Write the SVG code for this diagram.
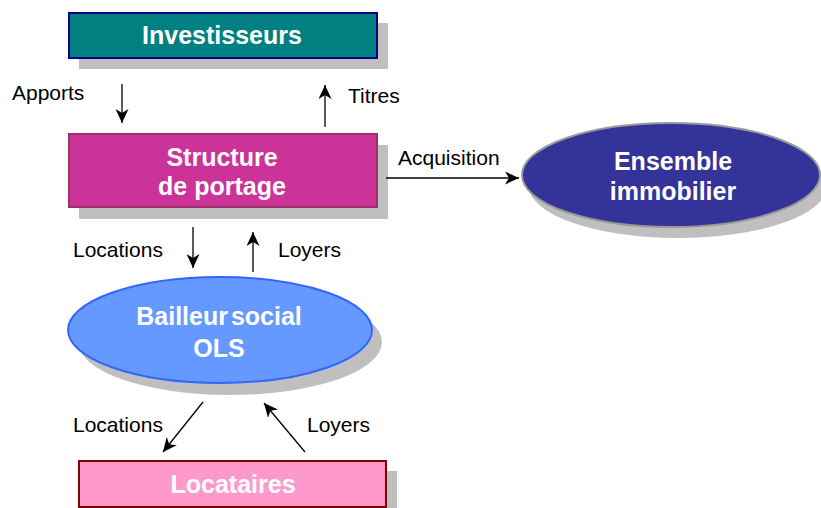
<svg xmlns="http://www.w3.org/2000/svg" width="821" height="508" viewBox="0 0 821 508">
<defs>
<marker id="ah" markerUnits="userSpaceOnUse" markerWidth="15" markerHeight="13" viewBox="0 0 15 13" refX="14" refY="6.5" orient="auto">
<path d="M0,0 L14,6.5 L0,13 L4,6.5 Z" fill="#000"/>
</marker>
<style>
.sh{fill:#BFBFBF;stroke:none}
.title{font-family:"Liberation Sans",Arial,sans-serif;font-weight:bold;font-size:25px;fill:#fff;text-anchor:middle}
.lbl{font-family:"Liberation Sans",Arial,sans-serif;font-size:21px;fill:#000}
.con{stroke:#000;stroke-width:1.3;fill:none;marker-end:url(#ah)}
</style>
</defs>
<rect width="821" height="508" fill="#fff"/>

<g id="investisseurs">
<rect class="sh" x="79" y="23" width="309" height="46"/>
<rect x="69" y="13" width="308" height="45" fill="#008080" stroke="#000080" stroke-width="2"/>
<text class="title" x="222" y="44">Investisseurs</text>
</g>

<g id="structure">
<rect class="sh" x="79" y="145" width="309" height="74"/>
<rect x="69" y="134" width="308" height="73" fill="#CC3399" stroke="#993366" stroke-width="2"/>
<text class="title" x="222" y="166">Structure</text>
<text class="title" x="222" y="195">de portage</text>
</g>

<g id="ensemble">
<ellipse class="sh" cx="678" cy="186" rx="149" ry="52"/>
<ellipse cx="671" cy="175" rx="149" ry="52" fill="#333399" stroke="#999999" stroke-width="2"/>
<text class="title" x="673" y="170">Ensemble</text>
<text class="title" x="673" y="200">immobilier</text>
</g>

<g id="bailleur">
<ellipse class="sh" cx="230" cy="342" rx="152" ry="53"/>
<ellipse cx="220" cy="330" rx="152" ry="53" fill="#6699FF" stroke="#3366FF" stroke-width="2"/>
<text class="title" x="219" y="325" word-spacing="-4">Bailleur social</text>
<text class="title" x="219" y="357">OLS</text>
</g>

<g id="locataires">
<rect class="sh" x="90" y="471" width="307" height="40"/>
<rect x="79" y="461" width="307" height="46" fill="#FF99CC" stroke="#800000" stroke-width="2"/>
<text class="title" x="233" y="493">Locataires</text>
</g>

<g id="connectors">
<line class="con" x1="122" y1="84" x2="122" y2="123"/>
<line class="con" x1="325" y1="127" x2="325" y2="85"/>
<line class="con" x1="386" y1="178" x2="519" y2="178"/>
<line class="con" x1="193" y1="227" x2="193" y2="268"/>
<line class="con" x1="253" y1="272" x2="253" y2="232"/>
<line class="con" x1="203" y1="402" x2="163" y2="452"/>
<line class="con" x1="305" y1="452" x2="264" y2="403"/>
<text class="lbl" x="12" y="100">Apports</text>
<text class="lbl" x="348" y="103">Titres</text>
<text class="lbl" x="398" y="165">Acquisition</text>
<text class="lbl" x="73" y="257">Locations</text>
<text class="lbl" x="278" y="257">Loyers</text>
<text class="lbl" x="73" y="432">Locations</text>
<text class="lbl" x="307" y="432">Loyers</text>
</g>
</svg>
